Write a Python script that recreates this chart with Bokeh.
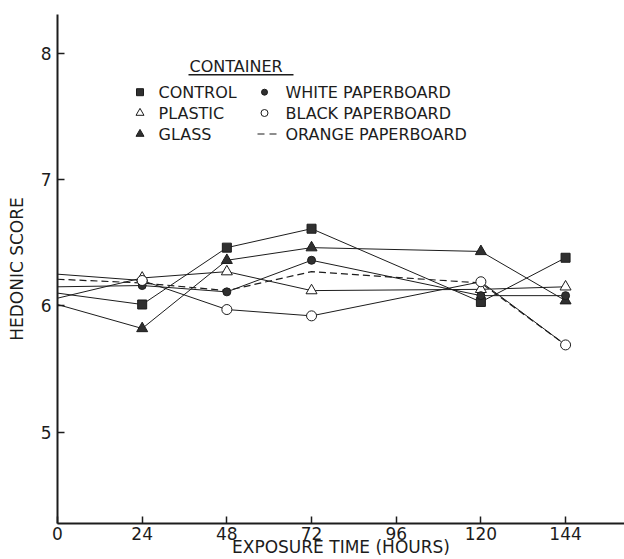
from bokeh.plotting import figure
from bokeh.models import Range1d, Label, FixedTicker, BoxAnnotation
from bokeh.embed import file_html
from bokeh.resources import INLINE

# ---------------- data ----------------
hours = [0, 24, 48, 72, 120, 144]
control = [6.10, 6.01, 6.46, 6.61, 6.03, 6.38]
plastic = [6.06, 6.22, 6.27, 6.12, 6.13, 6.15]
glass = [6.01, 5.82, 6.36, 6.46, 6.43, 6.04]
white_pb = [6.15, 6.16, 6.11, 6.36, 6.08, 6.08]
black_pb = [6.25, 6.20, 5.97, 5.92, 6.19, 5.69]
orange_pb = [6.21, 6.18, 6.12, 6.27, 6.18, 5.69]

x_ticks = [0, 24, 48, 72, 96, 120, 144]
y_ticks = [5, 6, 7, 8]
x_title = "EXPOSURE TIME (HOURS)"
y_title = "HEDONIC SCORE"
legend_title = "CONTAINER"
legend_names = ["CONTROL", "PLASTIC", "GLASS",
                "WHITE PAPERBOARD", "BLACK PAPERBOARD", "ORANGE PAPERBOARD"]

# ---------------- layout / style ----------------
FONT = "DejaVu Sans"
INK = "#1c1c1c"
DARK = "#303030"
W, H = 624, 559
LEFT, TOP, RIGHT, BOTTOM = 57, 14, 0, 36
FW, FH = W - LEFT - RIGHT, H - TOP - BOTTOM
X0, X1 = 0, 160.7
Y0, Y1 = 4.276, 8.306
PAGE_L, PAGE_T = LEFT, TOP  # frame position on the page


def sx(px):
    return px - PAGE_L


def sy(py):
    return PAGE_T + FH - py


def dx(px):
    return X0 + (px - PAGE_L) * (X1 - X0) / FW


def dy(py):
    return Y1 - (py - PAGE_T) * (Y1 - Y0) / FH


p = figure(width=W, height=H, output_backend="svg",
           toolbar_location=None, x_range=Range1d(X0, X1),
           y_range=Range1d(Y0, Y1),
           min_border_left=LEFT, min_border_right=RIGHT,
           min_border_top=TOP, min_border_bottom=BOTTOM)
p.outline_line_color = None
p.grid.visible = False
p.background_fill_color = "white"
p.border_fill_color = "white"

for ax in (p.xaxis[0], p.yaxis[0]):
    ax.axis_line_width = 2
    ax.axis_line_color = INK
    ax.major_tick_line_color = INK
    ax.major_tick_line_width = 1.5
    ax.major_tick_in = 7
    ax.major_tick_out = 0
    ax.minor_tick_line_color = None
    ax.major_label_text_font = FONT
    ax.major_label_text_font_size = "17px"
    ax.major_label_text_color = INK
    ax.axis_label_text_font = FONT
    ax.axis_label_text_font_size = "17px"
    ax.axis_label_text_font_style = "normal"
    ax.axis_label_text_color = INK

p.xaxis.ticker = FixedTicker(ticks=x_ticks)
p.yaxis.ticker = FixedTicker(ticks=y_ticks)
p.xaxis.major_label_standoff = 3
p.yaxis.major_label_standoff = 6
p.yaxis.axis_label = y_title
p.yaxis.axis_label_standoff = 11
p.xaxis.axis_label = x_title
p.xaxis.axis_label_standoff = -6

# ---------------- series ----------------
solid = [(control, "square", DARK, 9), (plastic, "triangle", "white", 11),
         (glass, "triangle", DARK, 11), (white_pb, "circle", DARK, 8),
         (black_pb, "circle", "white", 10)]
for vals, _, _, _ in solid:
    p.line(hours, vals, line_color=INK, line_width=1)
p.line(hours, orange_pb, line_color=INK, line_width=1.2, line_dash="7 4")
for vals, mk, fc, sz in solid:
    p.scatter(hours[1:], vals[1:], marker=mk, size=sz, fill_color=fc,
              line_color=INK, line_width=1)

# ---------------- legend (hand drawn) ----------------
p.add_layout(Label(x=sx(189), y=sy(66), x_units="screen", y_units="screen",
                   text=legend_title, text_baseline="middle",
                   text_font=FONT, text_font_size="16px", text_color=INK))
p.add_layout(BoxAnnotation(left=sx(188), right=sx(293), top=sy(73.5),
                           bottom=sy(75), left_units="screen",
                           right_units="screen", top_units="screen",
                           bottom_units="screen", fill_color=INK,
                           fill_alpha=1, line_alpha=0))
rows = [91.7, 112.5, 133.5]
col_mk = [139.5, 264]
col_tx = [158, 285]
leg_marks = [("square", DARK, 7), ("triangle", "white", 8),
             ("triangle", DARK, 8), ("circle", DARK, 6), ("circle", "white", 7)]
for i, (mk, fc, sz) in enumerate(leg_marks):
    c, r = divmod(i, 3)
    p.scatter([dx(col_mk[c])], [dy(rows[r])], marker=mk, size=sz,
              fill_color=fc, line_color=INK, line_width=1)
p.line([dx(257), dx(277)], [dy(rows[2]), dy(rows[2])], line_color=INK,
       line_width=1.2, line_dash="7 5")
for i, name in enumerate(legend_names):
    c, r = divmod(i, 3)
    p.add_layout(Label(x=sx(col_tx[c]), y=sy(rows[r]), x_units="screen",
                       y_units="screen", text=name, text_baseline="middle",
                       text_font=FONT, text_font_size="16px", text_color=INK))

open("out.html", "w").write(file_html(p, INLINE))
